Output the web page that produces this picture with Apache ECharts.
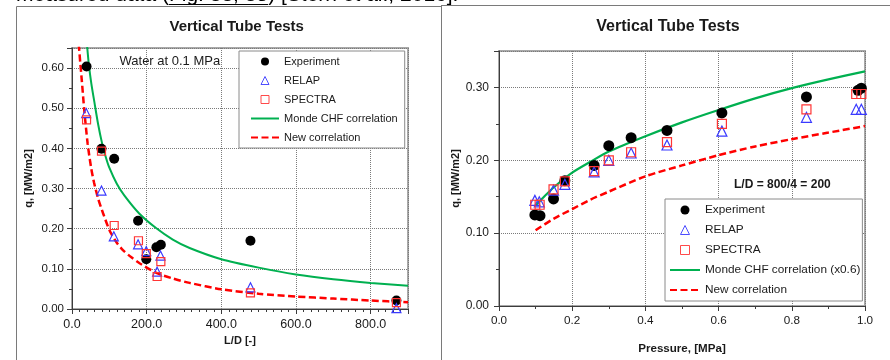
<!DOCTYPE html>
<html>
<head>
<meta charset="utf-8">
<script src="https://cdn.jsdelivr.net/npm/echarts@6/dist/echarts.min.js"></script>
<style>
  html, body { margin: 0; padding: 0; background: #fff; }
  #chart { width: 890px; height: 360px; }
</style>
</head>
<body>
<div id="chart"></div>
<script>
// ---- Left panel: CHF vs L/D, water at 0.1 MPa ----
const ldExperiment = [[39, 0.604], [79, 0.399], [113, 0.374], [177, 0.220], [199, 0.124], [226, 0.154], [238, 0.160], [478, 0.170], [869, 0.021]];
const ldRelap = [[38, 0.488], [79, 0.295], [112, 0.181], [177, 0.161], [199, 0.144], [228, 0.093], [237, 0.133], [478, 0.054], [869, 0.002]];
const ldSpectra = [[39, 0.471], [79, 0.393], [113, 0.208], [178, 0.170], [199, 0.138], [228, 0.081], [238, 0.118], [478, 0.040], [869, 0.016]];
const ldMonde = [[40, 0.66], [45, 0.61], [52, 0.56], [60, 0.515], [70, 0.46], [80, 0.415], [90, 0.38], [100, 0.352], [120, 0.312], [140, 0.283], [180, 0.238], [226, 0.201], [270, 0.173], [315, 0.152], [400, 0.124], [500, 0.103], [600, 0.086], [700, 0.074], [800, 0.065], [900, 0.058]];
const ldNewCorr = [[18, 0.66], [22, 0.615], [26, 0.572], [33, 0.494], [42, 0.411], [51, 0.353], [59, 0.315], [70, 0.275], [83, 0.239], [101, 0.195], [120, 0.165], [137, 0.146], [160, 0.128], [181, 0.114], [226, 0.090], [270, 0.076], [315, 0.065], [400, 0.049], [500, 0.038], [600, 0.031], [700, 0.026], [800, 0.021], [900, 0.017]];

// ---- Right panel: CHF vs pressure, L/D = 200 ----
const prExperiment = [[0.098, 0.125], [0.112, 0.124], [0.149, 0.147], [0.180, 0.172], [0.260, 0.193], [0.300, 0.220], [0.361, 0.231], [0.459, 0.241], [0.609, 0.265], [0.840, 0.287], [0.981, 0.296], [0.990, 0.299]];
const prRelap = [[0.098, 0.145], [0.110, 0.143], [0.149, 0.159], [0.180, 0.167], [0.260, 0.184], [0.300, 0.200], [0.361, 0.210], [0.459, 0.221], [0.609, 0.240], [0.840, 0.259], [0.976, 0.270], [0.990, 0.270]];
const prSpectra = [[0.099, 0.139], [0.111, 0.139], [0.149, 0.160], [0.180, 0.171], [0.260, 0.185], [0.300, 0.200], [0.361, 0.211], [0.459, 0.225], [0.609, 0.250], [0.840, 0.270], [0.976, 0.291], [0.990, 0.291]];
const prMonde = [[0.1, 0.138], [0.125, 0.151], [0.15, 0.163], [0.2, 0.183], [0.25, 0.198], [0.3, 0.212], [0.4, 0.233], [0.5, 0.252], [0.6, 0.269], [0.7, 0.285], [0.8, 0.299], [0.9, 0.311], [1.0, 0.322]];
const prNewCorr = [[0.1, 0.104], [0.15, 0.120], [0.2, 0.133], [0.25, 0.146], [0.3, 0.157], [0.4, 0.178], [0.5, 0.193], [0.6, 0.207], [0.7, 0.219], [0.8, 0.229], [0.9, 0.238], [1.0, 0.247]];

const leftLegendNames = ['Experiment', 'RELAP', 'SPECTRA', 'Monde CHF correlation', 'New correlation'];
const rightLegendNames = ['Experiment', 'RELAP', 'SPECTRA', 'Monde CHF correlation (x0.6)', 'New correlation'];

const FONT = 'Liberation Sans';
const AXIS_COLOR = '#3c3c3c';
const TEXT_COLOR = '#1a1a1a';
const GREEN = '#00b050';
const RED = '#ff0000';
const BLUE = '#3a3aff';
const SQ_RED = '#ff3535';

// legend glyphs for the hollow markers, kept square
const TRIANGLE_ICON = 'path://M5,0 L10,10 L0,10 Z';
const SQUARE_ICON = 'path://M0,0 L10,0 L10,10 L0,10 Z';
const HIDDEN_SYMBOL = { color: 'rgba(0,0,0,0)', borderColor: 'rgba(0,0,0,0)', borderWidth: 0, opacity: 0 };

function stepFormatter(step, digits) {
  return function (v) {
    const k = v / step;
    return Math.abs(k - Math.round(k)) < 1e-6 ? v.toFixed(digits) : '';
  };
}

function valueAxis(gridIndex, opts) {
  return {
    type: 'value',
    gridIndex: gridIndex,
    min: opts.min,
    max: opts.max,
    interval: opts.interval,
    name: opts.name,
    nameLocation: 'middle',
    nameGap: opts.nameGap,
    nameTextStyle: { fontFamily: FONT, fontWeight: 'bold', fontSize: opts.nameSize, color: TEXT_COLOR },
    axisLine: { show: true, onZero: false, lineStyle: { color: AXIS_COLOR, width: 1 } },
    axisTick: { show: true, length: 5, lineStyle: { color: AXIS_COLOR } },
    minorTick: { show: true, splitNumber: opts.minorSplit, length: 3, lineStyle: { color: AXIS_COLOR } },
    splitLine: { show: true, lineStyle: { color: '#7a7a7a', type: 'dotted', width: 1 } },
    axisLabel: {
      fontFamily: FONT, fontSize: opts.labelSize, color: TEXT_COLOR, margin: opts.margin,
      formatter: stepFormatter(opts.interval, opts.digits),
      showMaxLabel: opts.showMax
    }
  };
}

function scatter(name, data, gi, symbol, size, fill, border) {
  return {
    type: 'scatter', name: name, data: data, xAxisIndex: gi, yAxisIndex: gi,
    symbol: symbol, symbolSize: size,
    itemStyle: { color: fill, borderColor: border, borderWidth: fill === 'transparent' ? 1.2 : 0, opacity: 1 },
    emphasis: { disabled: true }, z: 3
  };
}

function curve(name, data, gi, color, width, dashed) {
  return {
    type: 'line', name: name, data: data, xAxisIndex: gi, yAxisIndex: gi,
    symbol: 'none', smooth: 0.25,
    color: color,
    lineStyle: { color: color, width: width, type: dashed ? [7, 3.5] : 'solid' },
    itemStyle: { color: color },
    emphasis: { disabled: true }, z: 2
  };
}

function legendItems(names) {
  return names.map(function (n, i) {
    if (i === 1) return { name: n, icon: TRIANGLE_ICON, itemStyle: { borderWidth: 0.9 } };
    if (i === 2) return { name: n, icon: SQUARE_ICON, itemStyle: { borderWidth: 0.9 } };
    if (i >= 3) return { name: n, itemStyle: HIDDEN_SYMBOL };
    return { name: n };
  });
}

function legend(names, left, top, itemWidth, itemHeight, gap, padding, fontSize) {
  return {
    data: legendItems(names), orient: 'vertical', left: left, top: top,
    itemWidth: itemWidth, itemHeight: itemHeight, itemGap: gap, padding: padding,
    borderColor: '#8a8a8a', borderWidth: 1, backgroundColor: '#ffffff',
    selectedMode: false, symbolKeepAspect: true,
    textStyle: { fontFamily: FONT, fontSize: fontSize, color: TEXT_COLOR }
  };
}

const chart = echarts.init(document.getElementById('chart'), null, { renderer: 'canvas' });

const option = {
  animation: false,
  backgroundColor: '#ffffff',
  textStyle: { fontFamily: FONT },
  grid: [
    { left: 72, top: 48, width: 336, height: 261, show: true, borderColor: '#a8a8a8', borderWidth: 2, backgroundColor: 'transparent' },
    { left: 499, top: 51, width: 366, height: 255, show: true, borderColor: '#a8a8a8', borderWidth: 2, backgroundColor: 'transparent' }
  ],
  xAxis: [
    valueAxis(0, { min: 0, max: 900, interval: 200, minorSplit: 10, digits: 1, labelSize: 12.5, margin: 9, name: 'L/D [-]', nameGap: 23, nameSize: 11, showMax: false }),
    valueAxis(1, { min: 0, max: 1.0, interval: 0.2, minorSplit: 2, digits: 1, labelSize: 11.7, margin: 9, name: 'Pressure, [MPa]', nameGap: 37, nameSize: 11.6, showMax: true })
  ],
  yAxis: [
    valueAxis(0, { min: 0, max: 0.65, interval: 0.1, minorSplit: 2, digits: 2, labelSize: 11.5, margin: 8, name: 'q, [MW/m2]', nameGap: 38, nameSize: 11, showMax: false }),
    valueAxis(1, { min: 0, max: 0.35, interval: 0.1, minorSplit: 2, digits: 2, labelSize: 12, margin: 10, name: 'q, [MW/m2]', nameGap: 38, nameSize: 11, showMax: false })
  ],
  legend: [
    legend(leftLegendNames, 239, 51, 28, 8, 8, [5, 7, 5, 11], 11),
    legend(rightLegendNames, 665, 199, 30, 9, 8, [5, 2, 5, 4], 11.8)
  ],
  series: [
    curve('Monde CHF correlation', ldMonde, 0, GREEN, 2, false),
    curve('New correlation', ldNewCorr, 0, RED, 2.5, true),
    scatter('Experiment', ldExperiment, 0, 'circle', 10, '#000000', '#000000'),
    scatter('RELAP', ldRelap, 0, 'triangle', 9, 'transparent', BLUE),
    scatter('SPECTRA', ldSpectra, 0, 'rect', 8, 'transparent', SQ_RED),

    curve('Monde CHF correlation (x0.6)', prMonde, 1, GREEN, 2.2, false),
    curve('New correlation', prNewCorr, 1, RED, 2.5, true),
    scatter('Experiment', prExperiment, 1, 'circle', 11, '#000000', '#000000'),
    scatter('RELAP', prRelap, 1, 'triangle', 10, 'transparent', BLUE),
    scatter('SPECTRA', prSpectra, 1, 'rect', 9, 'transparent', SQ_RED)
  ],
  graphic: [
    // page text running above the two panels
    { type: 'text', x: 16, y: -4.8, silent: true,
      style: { text: 'measured data (Fig. 33, 35) [Stern et al., 2016].', font: '21px "Liberation Sans"', fill: '#000', textAlign: 'left', textVerticalAlign: 'middle' } },
    { type: 'line', silent: true, shape: { x1: 169, y1: 4.5, x2: 268, y2: 4.5 }, style: { stroke: '#000', lineWidth: 1 } },

    // panel frames
    { type: 'line', silent: true, shape: { x1: 16.5, y1: 6.5, x2: 442, y2: 6.5 }, style: { stroke: '#7a7a7a', lineWidth: 1 } },
    { type: 'line', silent: true, shape: { x1: 16.5, y1: 6.5, x2: 16.5, y2: 360 }, style: { stroke: '#7a7a7a', lineWidth: 1 } },
    { type: 'line', silent: true, shape: { x1: 441.5, y1: 5, x2: 441.5, y2: 360 }, style: { stroke: '#7a7a7a', lineWidth: 1 } },
    { type: 'line', silent: true, shape: { x1: 441.5, y1: 5.5, x2: 890, y2: 5.5 }, style: { stroke: '#7a7a7a', lineWidth: 1 } },

    // panel titles
    { type: 'text', x: 236.7, y: 26.7, silent: true,
      style: { text: 'Vertical Tube Tests', font: 'bold 15px "Liberation Sans"', fill: TEXT_COLOR, textAlign: 'center', textVerticalAlign: 'middle' } },
    { type: 'text', x: 668, y: 27, silent: true,
      style: { text: 'Vertical Tube Tests', font: 'bold 16px "Liberation Sans"', fill: TEXT_COLOR, textAlign: 'center', textVerticalAlign: 'middle' } },

    // in-plot annotations
    { type: 'text', x: 119.5, y: 61, silent: true, z: 10,
      style: { text: 'Water at 0.1 MPa', font: '13px "Liberation Sans"', fill: TEXT_COLOR, textAlign: 'left', textVerticalAlign: 'middle' } },
    { type: 'text', x: 734, y: 184.5, silent: true, z: 10,
      style: { text: 'L/D = 800/4 = 200', font: 'bold 12px "Liberation Sans"', fill: TEXT_COLOR, textAlign: 'left', textVerticalAlign: 'middle' } }
  ]
};

chart.setOption(option);
</script>
</body>
</html>
